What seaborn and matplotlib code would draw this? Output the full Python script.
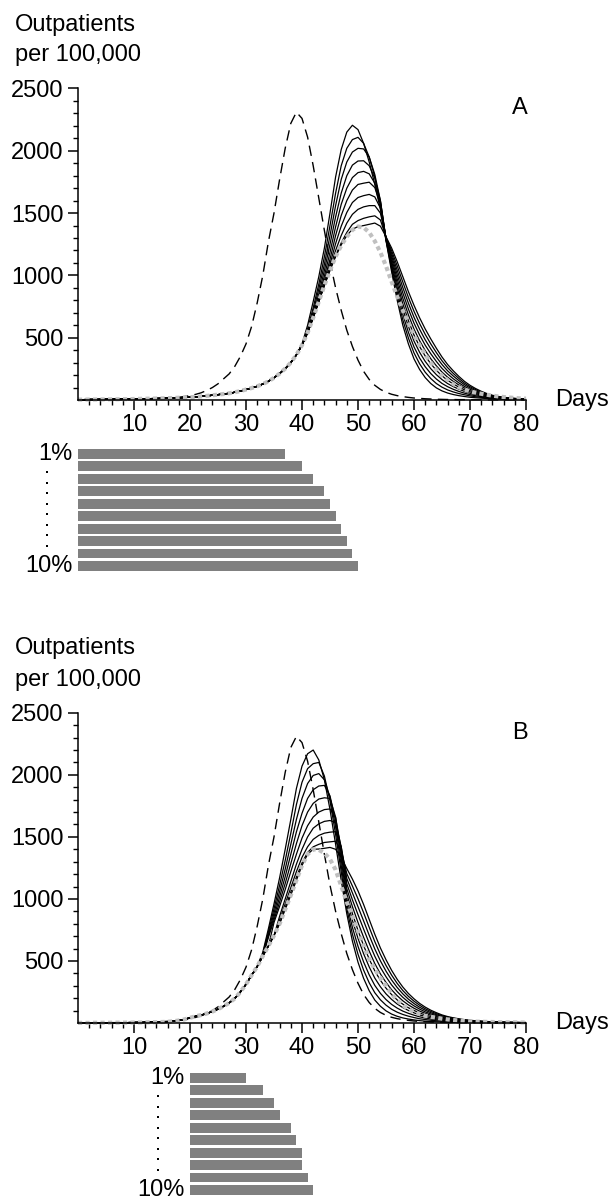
import numpy as np
import pandas as pd
import matplotlib
matplotlib.use("Agg")
import matplotlib.pyplot as plt
import matplotlib.transforms as mtransforms
from matplotlib.ticker import FixedLocator
import seaborn as sns

# ---------------- data ----------------
days = list(range(0, 81))

dashed_curve = [1, 1, 1, 2, 2, 2, 3, 3, 3, 4,
                4, 5, 6, 7, 9, 11, 14, 17, 22, 28,
                35, 45, 58, 77, 100, 130, 170, 210, 270, 350,
                450, 590, 780, 1000, 1270, 1500, 1770, 2020, 2220, 2310,
                2260, 2110, 1880, 1620, 1360, 1110, 900, 720, 560, 430,
                320, 230, 165, 118, 85, 62, 46, 35, 27, 21,
                16, 13, 10, 8, 6, 5, 4, 4, 3, 3,
                2, 2, 2, 1, 1, 1, 1, 1, 1, 1, 1]

A_gray = [3, 3, 4, 4, 5, 5, 6, 6, 7, 7,
          8, 9, 10, 11, 12, 13, 15, 16, 18, 20,
          22, 25, 29, 33, 38, 43, 48, 54, 62, 72,
          84, 96, 110, 128, 150, 178, 212, 252, 300, 362,
          440, 540, 660, 790, 920, 1040, 1150, 1240, 1310, 1365,
          1392, 1385, 1345, 1275, 1185, 1075, 950, 830, 720, 620,
          520, 440, 365, 300, 245, 198, 160, 128, 102, 84,
          70, 59, 50, 42, 35, 29, 24, 20, 16, 13, 11]

# solid curves: day at which each leaves the grey curve, then its values to day 80
A_solid_start = [40, 41, 41, 41, 41, 42, 42, 43, 44, 46]
A_solid = [
    [450, 600, 790, 990, 1220, 1500, 1790, 2010, 2150, 2205, 2170, 2060, 1910, 1730, 1530,
     1280, 1030, 800, 600, 450, 330, 245, 180, 132, 97, 73, 56, 44, 35, 28, 22, 18, 15, 12, 10, 8, 7, 6, 5, 4, 3],
    [570, 740, 930, 1150, 1400, 1660, 1880, 2020, 2090, 2108, 2060, 1950, 1790, 1570,
     1283, 1051, 834, 643, 497, 378, 291, 223, 172, 132, 103, 81, 65, 52, 42, 33, 26, 21, 16, 13, 10, 9, 7, 6, 5, 4],
    [555, 710, 890, 1090, 1320, 1560, 1770, 1910, 1990, 2020, 2015, 1950, 1810, 1600,
     1287, 1072, 869, 687, 543, 426, 337, 267, 212, 168, 133, 107, 86, 69, 55, 43, 34, 27, 21, 16, 13, 10, 8, 7, 5, 4],
    [545, 690, 850, 1040, 1250, 1470, 1660, 1800, 1885, 1918, 1920, 1880, 1780, 1600,
     1290, 1093, 903, 730, 590, 473, 383, 310, 251, 203, 164, 132, 108, 87, 69, 54, 43, 33, 25, 19, 15, 12, 10, 8, 6, 5],
    [540, 675, 825, 995, 1185, 1390, 1570, 1700, 1785, 1825, 1835, 1815, 1740, 1590,
     1293, 1114, 938, 773, 637, 521, 429, 353, 291, 238, 194, 158, 129, 104, 82, 65, 51, 39, 30, 22, 17, 14, 11, 8, 6, 5],
    [665, 805, 960, 1130, 1320, 1480, 1600, 1685, 1730, 1740, 1748, 1705, 1570,
     1297, 1136, 972, 817, 683, 569, 476, 397, 331, 274, 224, 183, 150, 121, 96, 75, 59, 46, 34, 26, 20, 15, 12, 9, 7, 5],
    [660, 795, 935, 1090, 1255, 1395, 1505, 1585, 1625, 1640, 1650, 1630, 1540,
     1300, 1157, 1007, 860, 730, 617, 522, 440, 371, 309, 254, 209, 171, 138, 109, 86, 67, 52, 39, 29, 22, 17, 13, 10, 8, 6],
    [790, 925, 1060, 1200, 1320, 1420, 1490, 1530, 1550, 1560, 1560, 1500,
     1303, 1178, 1041, 903, 777, 664, 568, 483, 410, 344, 285, 234, 193, 156, 123, 97, 75, 58, 43, 32, 24, 19, 13, 11, 8, 6],
    [920, 1045, 1160, 1260, 1345, 1410, 1440, 1458, 1470, 1478, 1445,
     1307, 1199, 1076, 947, 823, 712, 614, 527, 450, 380, 315, 260, 214, 173, 136, 107, 84, 64, 48, 35, 27, 20, 16, 12, 9, 7],
    [1150, 1245, 1320, 1370, 1392, 1400, 1410, 1420, 1395,
     1310, 1220, 1110, 990, 870, 760, 660, 570, 490, 415, 345, 285, 235, 190, 150, 118, 92, 70, 52, 38, 29, 22, 17, 13, 10, 8],
]

B_gray = [1, 1, 1, 2, 2, 2, 2, 3, 3, 3,
          4, 4, 5, 6, 7, 8, 10, 14, 20, 29,
          42, 54, 64, 77, 92, 112, 135, 162, 198, 250,
          312, 385, 455, 540, 620, 705, 800, 915, 1030, 1150,
          1270, 1360, 1400, 1395, 1370, 1320, 1235, 1105, 975, 860,
          740, 625, 515, 435, 365, 300, 235, 182, 142, 112,
          90, 72, 58, 50, 42, 35, 29, 24, 20, 16,
          13, 11, 10, 9, 8, 7, 6, 5, 5, 4, 4]

B_solid_start = [33, 33, 34, 34, 34, 35, 36, 36, 37, 43]
B_solid = [
    [570, 760, 960, 1170, 1400, 1640, 1890, 2070, 2170, 2200, 2120, 1960, 1720, 1440, 1150,
     880, 660, 490, 360, 260, 185, 135, 98, 72, 54, 41, 32, 25, 19, 15, 12, 10, 8, 6, 5, 4, 4, 3, 3, 2, 2, 2, 2, 1, 1, 1, 1, 1],
    [560, 735, 920, 1110, 1310, 1530, 1760, 1940, 2050, 2090, 2100, 1990, 1790, 1520, 1220,
     921, 716, 554, 426, 324, 244, 187, 144, 111, 87, 69, 55, 44, 34, 28, 22, 18, 14, 11, 9, 7, 7, 5, 5, 3, 3, 3, 3, 2, 2, 1, 1, 1],
    [715, 885, 1060, 1240, 1440, 1640, 1810, 1930, 1995, 2010, 1960, 1820, 1580, 1270,
     961, 771, 618, 492, 388, 303, 239, 189, 150, 120, 96, 78, 63, 50, 40, 32, 26, 21, 16, 13, 11, 9, 7, 6, 5, 4, 4, 3, 3, 2, 2, 2, 2],
    [700, 855, 1015, 1180, 1360, 1540, 1690, 1810, 1880, 1910, 1915, 1830, 1630, 1320,
     1002, 827, 682, 558, 452, 362, 292, 235, 190, 153, 124, 101, 82, 65, 53, 42, 34, 27, 21, 17, 14, 12, 9, 8, 6, 5, 5, 4, 3, 3, 2, 2, 2],
    [690, 830, 975, 1125, 1285, 1445, 1590, 1700, 1770, 1805, 1815, 1810, 1660, 1360,
     1042, 882, 746, 624, 516, 420, 344, 281, 229, 186, 152, 123, 101, 81, 65, 52, 42, 33, 26, 21, 17, 14, 11, 10, 8, 6, 5, 5, 4, 3, 3, 2, 2],
    [810, 940, 1075, 1220, 1360, 1490, 1590, 1660, 1700, 1720, 1725, 1655, 1400,
     1083, 938, 810, 691, 580, 479, 396, 327, 268, 220, 179, 146, 119, 96, 78, 63, 51, 40, 32, 26, 21, 17, 14, 11, 9, 8, 6, 5, 4, 4, 3, 3, 3],
    [860, 1000, 1140, 1280, 1400, 1500, 1570, 1605, 1625, 1632, 1615, 1420,
     1123, 993, 873, 757, 644, 538, 448, 373, 307, 253, 207, 169, 138, 112, 90, 73, 59, 46, 37, 30, 24, 19, 16, 13, 11, 9, 7, 6, 5, 4, 4, 3, 3],
    [830, 960, 1090, 1220, 1335, 1420, 1480, 1512, 1530, 1538, 1542, 1420,
     1164, 1049, 937, 823, 707, 597, 501, 418, 347, 286, 235, 192, 157, 127, 103, 83, 67, 52, 42, 34, 27, 22, 18, 15, 12, 10, 8, 7, 6, 5, 4, 3, 3],
    [930, 1055, 1175, 1290, 1375, 1420, 1440, 1455, 1460, 1465, 1390,
     1204, 1104, 1001, 889, 771, 656, 553, 464, 386, 319, 262, 215, 176, 143, 115, 93, 75, 59, 47, 38, 31, 24, 20, 16, 14, 11, 9, 7, 6, 5, 5, 4, 4],
    [1402, 1408, 1415, 1400, 1335,
     1245, 1160, 1065, 955, 835, 715, 605, 510, 425, 352, 290, 238, 195, 158, 128, 103, 83, 65, 52, 42, 34, 27, 22, 18, 15, 12, 10, 8, 7, 6, 5, 4, 4],
]

bar_end_labels = ["1%", "10%"]
A_bar_left = [0, 0, 0, 0, 0, 0, 0, 0, 0, 0]
A_bar_right = [37, 40, 42, 44, 45, 46, 47, 48, 49, 50]
B_bar_left = [20, 20, 20, 20, 20, 20, 20, 20, 20, 20]
B_bar_right = [30, 33, 35, 36, 38, 39, 40, 40, 41, 42]

y_title_lines = ["Outpatients", "per 100,000"]
panel_letters = ["A", "B"]
x_label = "Days"
y_major = [500, 1000, 1500, 2000, 2500]
x_major = [10, 20, 30, 40, 50, 60, 70, 80]

# ---------------- style ----------------
sns.set_style("ticks")
plt.rcParams["font.family"] = ["Liberation Sans", "DejaVu Sans"]
plt.rcParams["lines.solid_capstyle"] = "butt"
for key in ("text.color", "axes.labelcolor", "xtick.color", "ytick.color", "axes.edgecolor"):
    plt.rcParams[key] = "black"

W, H = 611, 1201
fig = plt.figure(figsize=(W / 100, H / 100), dpi=100)

FS = 17
GRAY = "#c0c0c0"


def fx(px):
    return px / W


def fy(px):
    return 1 - px / H


def main_panel(top_px, bottom_px, gray, starts, solids, letter, title_baselines):
    ax = fig.add_axes([fx(78), fy(bottom_px), fx(526) - fx(78), (bottom_px - top_px) / H])
    rows = []
    for k, (st, tail) in enumerate(zip(starts, solids)):
        vals = list(gray[:st]) + list(tail)
        for d, v in zip(range(len(vals)), vals):
            rows.append((k, d, v))
    df = pd.DataFrame(rows, columns=["curve", "day", "value"])
    sns.lineplot(data=df, x="day", y="value", units="curve", estimator=None,
                 color="black", linewidth=0.9, ax=ax, legend=False)
    sns.lineplot(x=days, y=dashed_curve, color="black", linewidth=1.0, ax=ax)
    ax.lines[-1].set_dashes([7.5, 4.5])
    sns.lineplot(x=days, y=gray, color=GRAY, linewidth=3.0, ax=ax)
    ax.lines[-1].set_dashes([1.0, 0.8])
    for ln in ax.lines:
        ln.set_clip_on(False)

    ax.set_xlim(0, 80)
    ax.set_ylim(0, 2500)
    ax.set_xlabel("")
    ax.set_ylabel("")
    ax.set_xticks(x_major)
    ax.set_xticklabels([str(v) for v in x_major])
    ax.set_yticks(y_major)
    ax.set_yticklabels([str(v) for v in y_major])
    ax.xaxis.set_minor_locator(FixedLocator([v for v in range(2, 80, 2) if v % 10]))
    ax.yaxis.set_minor_locator(FixedLocator([v for v in range(100, 2500, 100) if v % 500]))
    ax.tick_params(axis="both", which="major", length=7.2, width=1.1, labelsize=FS,
                   pad=3, direction="out", colors="black")
    ax.tick_params(axis="both", which="minor", length=3.6, width=1.0, direction="out")
    sns.despine(ax=ax)
    for s in ("left", "bottom"):
        ax.spines[s].set_linewidth(1.1)
        ax.spines[s].set_color("black")
    ax.patch.set_alpha(0)

    ax.annotate(x_label, xy=(1, 0), xycoords="axes fraction", xytext=(29, 0),
                textcoords="offset pixels", ha="left", va="center", fontsize=FS)
    ax.annotate(letter, xy=(1, 1), xycoords="axes fraction", xytext=(-6, -20),
                textcoords="offset pixels", ha="center", va="center", fontsize=FS)
    for line, base in zip(y_title_lines, title_baselines):
        fig.text(fx(15), fy(base), line, fontsize=FS, va="baseline", ha="left")
    return ax


def bar_panel(center_top_px, left, right, dot_offset_px):
    pitch = 12.44
    top = center_top_px - pitch / 2
    bottom = top + pitch * 10
    ax = fig.add_axes([fx(78), fy(bottom), fx(526) - fx(78), (bottom - top) / H])
    idx = np.arange(len(right))
    widths = np.array(right) - np.array(left)
    ax.barh(idx, widths, left=left, height=0.8, color="#808080", edgecolor="none")
    ax.set_xlim(0, 80)
    ax.set_ylim(len(right) - 0.5, -0.5)
    ax.axis("off")
    ax.annotate(bar_end_labels[0], xy=(left[0], 0), xycoords="data", xytext=(-5, 0),
                textcoords="offset pixels", ha="right", va="center", fontsize=FS,
                annotation_clip=False)
    ax.annotate(bar_end_labels[1], xy=(left[-1], len(right) - 1), xycoords="data",
                xytext=(-5, 0), textcoords="offset pixels", ha="right", va="center",
                fontsize=FS, annotation_clip=False)
    tr = mtransforms.offset_copy(ax.transData, fig=fig, x=dot_offset_px, y=0, units="dots")
    dots_y = np.linspace(1.47, 7.37, 8)
    ax.scatter([left[0]] * len(dots_y), dots_y, s=3.0, marker="s", color="black",
               transform=tr, clip_on=False, linewidths=0)
    return ax


main_panel(88.5, 400, A_gray, A_solid_start, A_solid, panel_letters[0], [31, 61])
bar_panel(454, A_bar_left, A_bar_right, -31)
main_panel(712.8, 1023, B_gray, B_solid_start, B_solid, panel_letters[1], [654, 686])
bar_panel(1078, B_bar_left, B_bar_right, -32)

fig.savefig("out.png", dpi=100)
